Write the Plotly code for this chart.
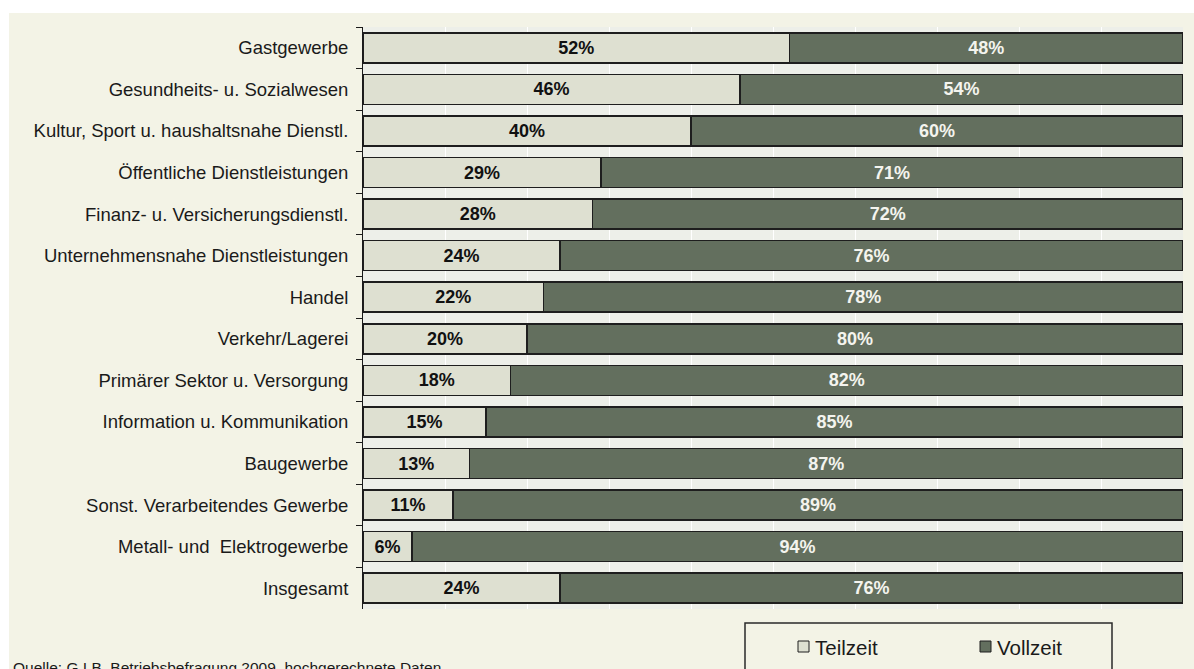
import plotly.graph_objects as go

categories = [
    "Gastgewerbe",
    "Gesundheits- u. Sozialwesen",
    "Kultur, Sport u. haushaltsnahe Dienstl.",
    "Öffentliche Dienstleistungen",
    "Finanz- u. Versicherungsdienstl.",
    "Unternehmensnahe Dienstleistungen",
    "Handel",
    "Verkehr/Lagerei",
    "Primärer Sektor u. Versorgung",
    "Information u. Kommunikation",
    "Baugewerbe",
    "Sonst. Verarbeitendes Gewerbe",
    "Metall- und  Elektrogewerbe",
    "Insgesamt",
]
teilzeit = [52, 46, 40, 29, 28, 24, 22, 20, 18, 15, 13, 11, 6, 24]
vollzeit = [48, 54, 60, 71, 72, 76, 78, 80, 82, 85, 87, 89, 94, 76]
series_names = ["Teilzeit", "Vollzeit"]
source_text = "Quelle: G.I.B. Betriebsbefragung 2009, hochgerechnete Daten"

LIGHT = "#DEE0D1"
DARK = "#636F5E"
OUTLINE = "#1E1E1E"
PAGE_BG = "#F3F3E6"
PLOT_BG = "#EDEFE9"
FONT = "Liberation Sans, Arial, sans-serif"

W, H = 1194, 669
L, R, T, B = 363, 11, 27, 60
PW, PH = W - L - R, H - T - B


def px_x(px):
    """window pixel x -> paper coordinate"""
    return (px - L) / PW


def px_y(py):
    """window pixel y -> paper coordinate"""
    return (H - B - py) / PH


fig = go.Figure()
fig.add_trace(go.Bar(
    y=categories, x=teilzeit, orientation="h", name=series_names[0],
    marker=dict(color=LIGHT, line=dict(color=OUTLINE, width=1.5)),
    text=[f"{v}%" for v in teilzeit], textposition="inside",
    insidetextanchor="middle", textangle=0, constraintext="none",
    textfont=dict(family=FONT, size=18, color="#111111", weight="bold"),
    showlegend=False,
))
fig.add_trace(go.Bar(
    y=categories, x=vollzeit, orientation="h", name=series_names[1],
    marker=dict(color=DARK, line=dict(color=OUTLINE, width=1.5)),
    text=[f"{v}%" for v in vollzeit], textposition="inside",
    insidetextanchor="middle", textangle=0, constraintext="none",
    textfont=dict(family=FONT, size=18, color="#F4F4EE", weight="bold"),
    showlegend=False,
))

shapes = [
    # white strips at top/left of the beige page
    dict(type="rect", xref="paper", yref="paper", x0=-0.6, x1=1.2,
         y0=px_y(13), y1=px_y(-20), fillcolor="white", line=dict(width=0), layer="below"),
    dict(type="rect", xref="paper", yref="paper", x0=-0.6, x1=px_x(9),
         y0=px_y(700), y1=px_y(-20), fillcolor="white", line=dict(width=0), layer="below"),
    # legend box
    dict(type="rect", xref="paper", yref="paper", x0=px_x(745), x1=px_x(1112),
         y0=px_y(700), y1=px_y(623), fillcolor=PAGE_BG,
         line=dict(color="#2A2A2A", width=1.5)),
    dict(type="rect", xref="paper", yref="paper", x0=px_x(798), x1=px_x(809),
         y0=px_y(652), y1=px_y(641), fillcolor=LIGHT, line=dict(color=OUTLINE, width=1)),
    dict(type="rect", xref="paper", yref="paper", x0=px_x(980), x1=px_x(991),
         y0=px_y(652), y1=px_y(641), fillcolor=DARK, line=dict(color=OUTLINE, width=1)),
]

annotations = [
    dict(text=series_names[0], xref="paper", yref="paper", x=px_x(813), y=px_y(647),
         xanchor="left", yanchor="middle", showarrow=False,
         font=dict(family=FONT, size=20.5, color="#1A1A1A")),
    dict(text=series_names[1], xref="paper", yref="paper", x=px_x(995), y=px_y(647),
         xanchor="left", yanchor="middle", showarrow=False,
         font=dict(family=FONT, size=20.5, color="#1A1A1A")),
    dict(text=source_text, xref="paper", yref="paper", x=px_x(11), y=px_y(657),
         xanchor="left", yanchor="top", showarrow=False,
         font=dict(family=FONT, size=15.5, color="#1A1A1A")),
]

fig.update_layout(
    width=W, height=H,
    margin=dict(l=L, r=R, t=T, b=B, pad=0),
    barmode="stack", bargap=0.277,
    paper_bgcolor=PAGE_BG, plot_bgcolor=PLOT_BG,
    font=dict(family=FONT, size=18.5, color="#1A1A1A"),
    shapes=shapes, annotations=annotations,
    xaxis=dict(range=[0, 100], dtick=10, showgrid=True, gridcolor="white",
               gridwidth=1, showticklabels=False, zeroline=False, showline=False,
               ticks="", fixedrange=True),
    yaxis=dict(autorange="reversed", type="category", showgrid=False,
               showline=True, linecolor="#1A1A1A", linewidth=1,
               ticks="outside", tickson="boundaries", ticklen=6,
               tickcolor="#1A1A1A", tickwidth=1, ticklabelstandoff=10,
               tickfont=dict(family=FONT, size=18.5, color="#1A1A1A")),
)

fig.write_html(
    "out.html",
    config={"displayModeBar": False},
    post_script=(
        "document.documentElement.style.overflow='hidden';"
        "document.documentElement.style.background='#F3F3E6';"
        "document.body.style.margin='0';"
        "document.body.style.overflow='hidden';"
    ),
)
